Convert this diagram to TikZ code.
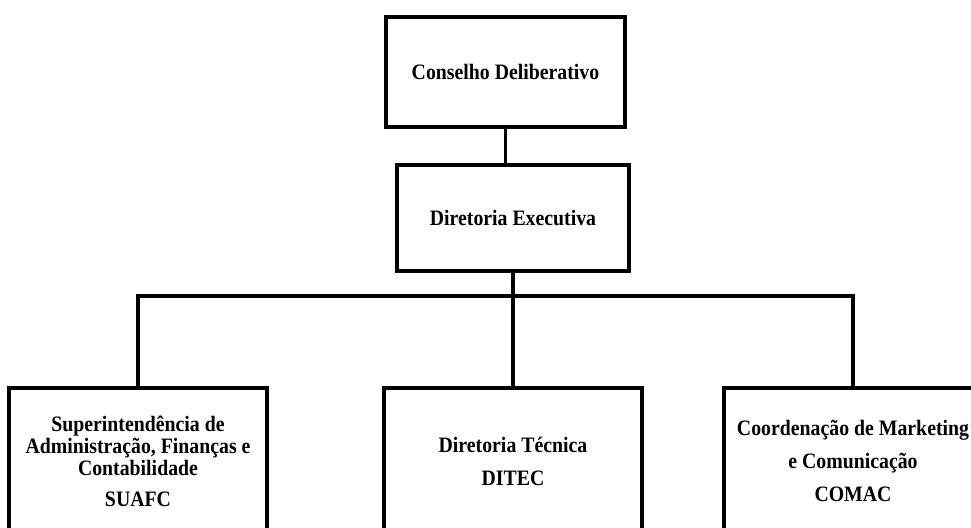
\documentclass[tikz,border=0pt]{standalone}
\usepackage{fontspec}
\setmainfont{Liberation Serif}[FakeStretch=0.9]
\usetikzlibrary{positioning}
\tikzset{
  orgbox/.style={draw=black, line width=2.6pt, fill=white, align=center, inner sep=2pt,
    font=\bfseries\fontsize{16.5}{16.5}\selectfont},
  orgline/.style={line width=2.6pt}
}

\begin{document}
\begin{tikzpicture}[x=0.75pt, y=-0.75pt]
  % Canvas
  \useasboundingbox (0,0) rectangle (971,528);
  \clip (0,0) rectangle (971,528);
  % Top levels
  \node[orgbox, minimum width=179.25pt, minimum height=82.5pt] (conselho) at (505.5,72) {Conselho Deliberativo};
  \node[orgbox, minimum width=174pt, minimum height=79.5pt] (diretoria) at (513,218) {Diretoria Executiva};
  % Bottom level
  \node[orgbox, minimum width=193.5pt, minimum height=109.5pt] (suafc) at (138,461)
    {Superintendência de\\Administração, Finanças e\\Contabilidade\\[6.75pt]SUAFC};
  \node[orgbox, minimum width=193.5pt, minimum height=109.5pt] (ditec) at (513,461)
    {Diretoria Técnica\\[8.25pt]DITEC};
  \node[orgbox, minimum width=193.5pt, minimum height=109.5pt] (comac) at (853,461)
    {Coordenação de Marketing\\[8.25pt]e Comunicação\\[8.25pt]COMAC};
  % Connectors
  \coordinate (bus) at (513,296);
  \draw[orgline] (conselho.south) -- (conselho.south |- diretoria.north);
  \draw[orgline] (diretoria.south) -- (ditec.north);
  \draw[orgline] (suafc.north) -- (suafc.north |- bus) -- (comac.north |- bus) -- (comac.north);
\end{tikzpicture}
\end{document}
